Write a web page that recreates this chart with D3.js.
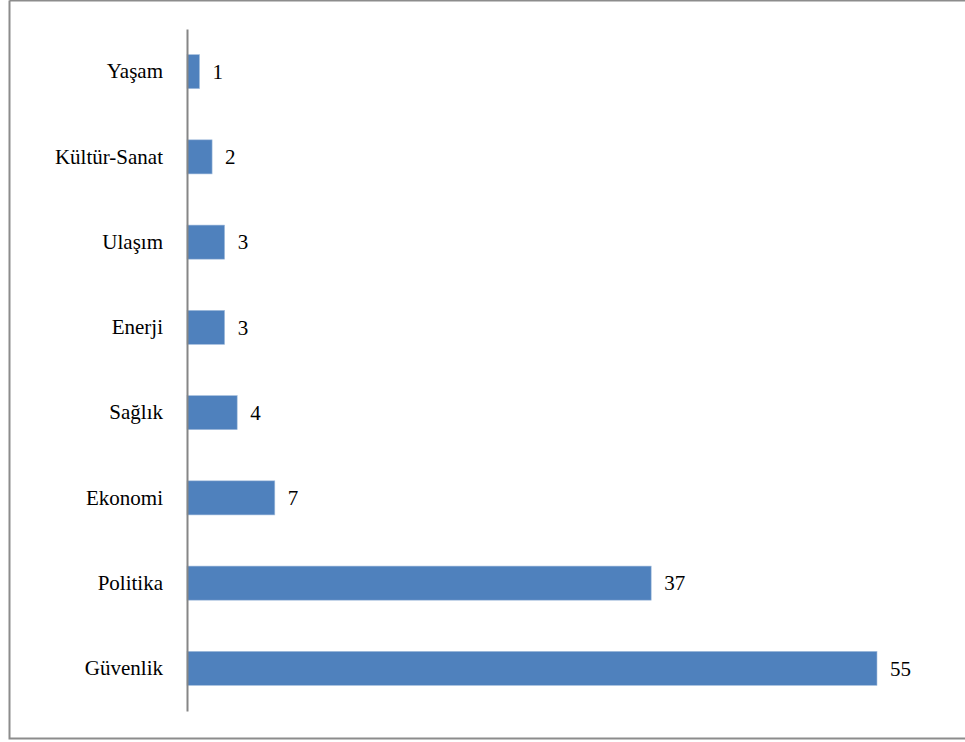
<!DOCTYPE html>
<html><head><meta charset="utf-8">
<script src="https://cdn.jsdelivr.net/npm/d3@7"></script>
<style>body{margin:0;background:#fff}svg{display:block}</style>
</head><body>
<script>
const categories = ["Yaşam","Kültür-Sanat","Ulaşım","Enerji","Sağlık","Ekonomi","Politika","Güvenlik"];
const values = [1,2,3,3,4,7,37,55];
const FONT = "Times, 'Times New Roman', 'Liberation Serif', 'DejaVu Serif', 'Nimbus Roman', FreeSerif, 'Noto Serif', serif";

const W = 965, H = 742;
const svg = d3.select("body").append("svg").attr("width", W).attr("height", H);
svg.append("rect").attr("width", W).attr("height", H).attr("fill", "#fff");
// frame
svg.append("path").attr("d", "M9.5,0.5 H966 M9.5,0.5 V738.5 H966")
  .attr("fill", "none").attr("stroke", "#8c8c8c").attr("stroke-width", 2);

const x = d3.scaleLinear().domain([0, 55]).range([187, 877]);
const y = d3.scaleBand().domain(categories).range([29, 711]).paddingInner(0.6).paddingOuter(0.3);

svg.selectAll("rect.bar").data(categories).join("rect").attr("class", "bar")
  .attr("x", x(0)).attr("y", d => y(d))
  .attr("width", (d, i) => x(values[i]) - x(0)).attr("height", y.bandwidth())
  .attr("fill", "#4f81bd").attr("stroke", "#a7c0de").attr("stroke-width", 0.6);

const yAxis = svg.append("g").attr("transform", `translate(${x(0)},0)`)
  .call(d3.axisLeft(y).tickSize(0).tickPadding(24));
yAxis.style("font-family", FONT);
yAxis.select(".domain").attr("stroke", "#868686").attr("stroke-width", 2);
yAxis.selectAll("text").style("font-family", FONT).attr("font-size", 21).attr("fill", "#000");

svg.selectAll("text.val").data(categories).join("text").attr("class", "val")
  .attr("x", (d, i) => x(values[i]) + 13).attr("y", d => y(d) + y.bandwidth() / 2)
  .attr("dy", "0.35em").style("font-family", FONT)
  .attr("font-size", 21).attr("fill", "#000").text((d, i) => values[i]);
</script>
</body></html>
